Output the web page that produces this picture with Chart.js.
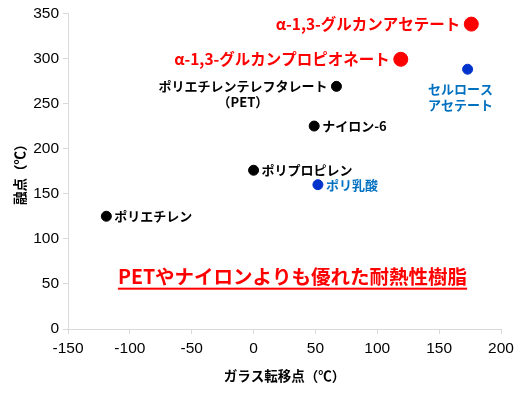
<!DOCTYPE html>
<html>
<head>
<meta charset="utf-8">
<script src="https://cdn.jsdelivr.net/npm/chart.js@4"></script>
<style>
  html, body { margin: 0; padding: 0; background: #fff; }
  #wrap { width: 520px; height: 395px; }
</style>
</head>
<body>
<div id="wrap"><canvas id="c" width="520" height="395"></canvas></div>
<script>
// polymer data: glass transition (x) vs melting point (y)
const names = [
  "α-1,3-グルカンアセテート",
  "α-1,3-グルカンプロピオネート",
  "セルロース\nアセテート",
  "ポリエチレンテレフタレート\n（PET）",
  "ナイロン-6",
  "ポリプロピレン",
  "ポリ乳酸",
  "ポリエチレン"
];
const glassTemp = [176, 119, 173, 67, 49, 0, 52, -119];
const meltTemp = [338, 299, 288, 269, 225, 176, 160, 125];
const groups = ["new", "new", "bio", "std", "std", "std", "bio", "std"];

const xTicks = [-150, -100, -50, 0, 50, 100, 150, 200];
const yTicks = [0, 50, 100, 150, 200, 250, 300, 350];
const headline = "PETやナイロンよりも優れた耐熱性樹脂";

const dotColor = { new: "#ff0000", bio: "#0033cc", std: "#000000" };
const textColor = { new: "#ff0000", bio: "#0070c0", std: "#000000" };
const dotSize = { new: 7, bio: 5, std: 5 };
// where each label sits relative to its point
const labelSide = ["left", "left", "below", "left", "right", "right", "right", "right"];

const jp = "'Noto Sans CJK JP', 'Noto Sans', sans-serif";

const labelPlugin = {
  id: "pointLabels",
  afterDatasetsDraw(chart) {
    const ctx = chart.ctx;
    const meta = chart.getDatasetMeta(0);
    ctx.save();
    meta.data.forEach((pt, i) => {
      const g = groups[i];
      const lines = names[i].split("\n");
      const size = g === "new" ? 15.5 : 13;
      ctx.font = "bold " + size + "px " + jp;
      ctx.fillStyle = textColor[g];
      ctx.textBaseline = "middle";
      const gap = dotSize[g] + 4;
      const lh = size + 3;
      if (labelSide[i] === "left") {
        const w0 = ctx.measureText(lines[0]).width;
        const cx = pt.x - gap - w0 / 2;
        ctx.textAlign = "center";
        lines.forEach((l, k) => ctx.fillText(l, cx, pt.y + k * 16));
      } else if (labelSide[i] === "right") {
        ctx.textAlign = "left";
        lines.forEach((l, k) => ctx.fillText(l, pt.x + gap - 1, pt.y + k * lh));
      } else {
        ctx.textAlign = "center";
        lines.forEach((l, k) => ctx.fillText(l, pt.x - 7, pt.y + 20 + k * 16));
      }
    });

    // red underlined headline
    const area = chart.chartArea;
    const hx = (area.left + area.right) / 2 + 8;
    const hy = chart.scales.y.getPixelForValue(58);
    ctx.font = "bold 19.5px " + jp;
    ctx.fillStyle = "#ff0000";
    ctx.textAlign = "center";
    ctx.textBaseline = "middle";
    ctx.fillText(headline, hx, hy);
    const hw = ctx.measureText(headline).width;
    ctx.fillRect(hx - hw / 2, hy + 11, hw, 2);
    ctx.restore();
  }
};

new Chart(document.getElementById("c"), {
  type: "scatter",
  data: {
    datasets: [
      {
        data: glassTemp.map((x, i) => ({ x: x, y: meltTemp[i] })),
        backgroundColor: groups.map(g => dotColor[g]),
        borderColor: groups.map(g => dotColor[g]),
        pointRadius: groups.map(g => dotSize[g]),
        pointHoverRadius: groups.map(g => dotSize[g]),
      },
    ],
  },
  options: {
    responsive: false,
    animation: false,
    layout: { padding: { top: 12, right: 19, left: 0, bottom: 0 } },
    plugins: { legend: { display: false }, tooltip: { enabled: false } },
    scales: {
      x: {
        type: "linear",
        min: -150,
        max: 200,
        afterBuildTicks: s => { s.ticks = xTicks.map(v => ({ value: v })); },
        afterFit: s => { s.height = 66; },
        border: { color: "#d9d9d9", width: 1 },
        grid: { drawOnChartArea: false, drawTicks: true, tickLength: 5, color: "#d9d9d9" },
        ticks: { color: "#000", font: { family: "'Liberation Sans', Arial", size: 15.5 }, padding: 5 },
        title: {
          display: true,
          text: "ガラス転移点（℃）",
          color: "#000",
          font: { family: jp, size: 13.5, weight: "bold" },
          padding: { top: 0, bottom: 11 },
        },
      },
      y: {
        type: "linear",
        min: 0,
        max: 350,
        afterBuildTicks: s => { s.ticks = yTicks.map(v => ({ value: v })); },
        afterFit: s => { s.width = 68; },
        border: { color: "#d9d9d9", width: 1 },
        grid: { drawOnChartArea: false, drawTicks: true, tickLength: 5, color: "#d9d9d9" },
        ticks: { color: "#000", font: { family: "'Liberation Sans', Arial", size: 15.5 }, padding: 4 },
        title: {
          display: true,
          text: "融点（℃）",
          color: "#000",
          font: { family: jp, size: 13.5, weight: "bold" },
          padding: { top: 12, bottom: 0 },
        },
      },
    },
  },
  plugins: [labelPlugin],
});
</script>
</body>
</html>
